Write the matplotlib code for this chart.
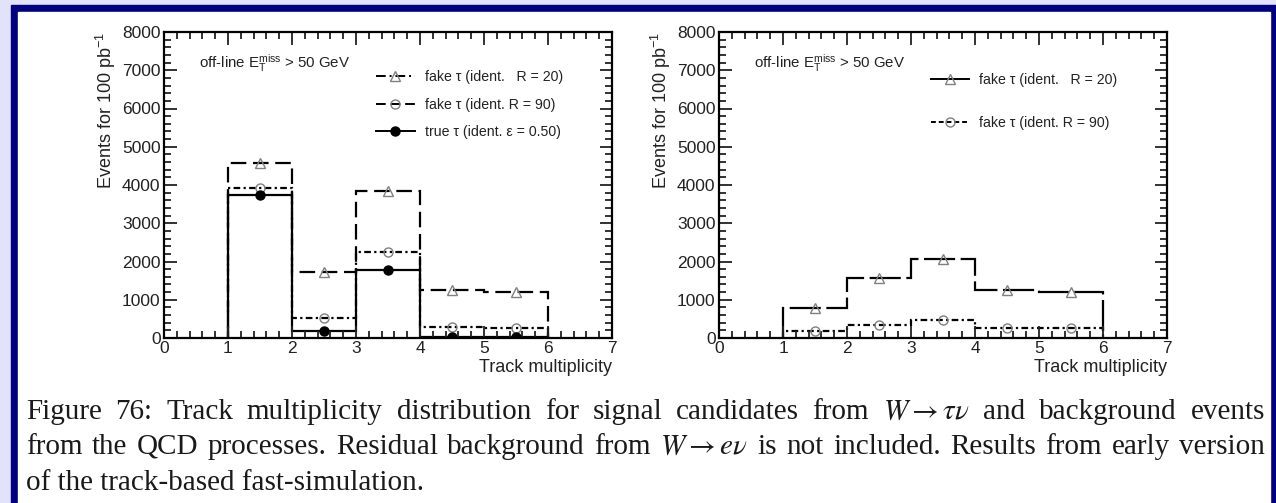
import matplotlib.pyplot as plt
from matplotlib.patches import Rectangle
from matplotlib.lines import Line2D
from matplotlib.ticker import MultipleLocator
import numpy as np

plt.rcParams['font.family'] = ['Liberation Sans', 'DejaVu Sans']
plt.rcParams['mathtext.fontset'] = 'custom'
plt.rcParams['mathtext.rm'] = 'Liberation Sans'
plt.rcParams['mathtext.it'] = 'Liberation Sans:italic'

# bin edges of the track multiplicity histograms
edges = [1, 2, 3, 4, 5, 6]

# left panel
left_fake20 = [4570, 1720, 3840, 1250, 1200]
left_fake90 = [3920, 510, 2250, 300, 270]
left_true = [3750, 180, 1780, 25, 20]

# right panel
right_fake20 = [790, 1560, 2070, 1250, 1200]
right_fake90 = [180, 350, 470, 270, 250]

label20 = u'fake \u03c4 (ident.   R = 20)'
label90 = u'fake \u03c4 (ident. R = 90)'
label_true = u'true \u03c4 (ident. \u03b5 = 0.50)'

caption = [
    ['Figure', '76:', 'Track', 'multiplicity', 'distribution', 'for', 'signal', 'candidates', 'from',
     r'$W \rightarrow \tau\nu$', 'and', 'background', 'events'],
    ['from', 'the', 'QCD', 'processes.', 'Residual', 'background', 'from', r'$W \rightarrow e\nu$',
     'is', 'not', 'included.', 'Results', 'from', 'early', 'version'],
    ['of the track-based fast-simulation.'],
]

W, H = 1276, 503
fig = plt.figure(figsize=(W / 100, H / 100), dpi=100)
fig.patch.set_facecolor('#e2e2f8')
fig.add_artist(Rectangle((11 / W, 0), 1 - 11 / W, 1 - 5 / H, transform=fig.transFigure,
                         color='#000080', zorder=-2))
fig.add_artist(Rectangle((18 / W, 0), (1270 - 18) / W, 1 - 12 / H, transform=fig.transFigure,
                         color='white', zorder=-1))

centers = (np.array(edges[:-1]) + np.array(edges[1:])) / 2

style20_left = (0, (7, 3))
style90 = (0, (3, 1.5, 1, 1.5))
style20_right = (0, (14, 2.5))

tri = dict(marker='^', mfc='none', mec='#808080', ms=7, mew=1)
circ = dict(marker='o', mfc='none', mec='#808080', ms=6.5, mew=1)
dot = dict(marker='o', mfc='black', mec='black', ms=6.5)
txt = '#222222'


def setup(ax):
    ax.set_xlim(0, 7)
    ax.set_ylim(0, 8000)
    ax.xaxis.set_major_locator(MultipleLocator(1))
    ax.xaxis.set_minor_locator(MultipleLocator(0.2))
    ax.yaxis.set_major_locator(MultipleLocator(1000))
    ax.yaxis.set_minor_locator(MultipleLocator(200))
    ax.tick_params(which='both', direction='in', top=True, right=True, width=1.3,
                   labelsize=12.5, pad=2.5, colors=txt)
    ax.tick_params(which='major', length=9)
    ax.tick_params(which='minor', length=5)
    for s in ax.spines.values():
        s.set_linewidth(1.6)
        s.set_zorder(5)
    ax.set_xlabel('Track multiplicity', loc='right', fontsize=13, labelpad=2, color=txt)
    ax.set_ylabel('Events for 100 pb$^{-1}$', loc='top', fontsize=13, labelpad=3, color=txt)
    ax.text(0.55, 7180, r'off-line E$_{\mathrm{T}}^{\mathrm{miss}}$ > 50 GeV', fontsize=10.8,
            va='center', color=txt)


# left panel
ax1 = fig.add_axes([164 / W, 1 - 338 / H, 448 / W, 306 / H])
setup(ax1)
ax1.stairs(left_fake20, edges, baseline=0, color='black', lw=1.6, ls=style20_left)
ax1.stairs(left_fake90, edges, baseline=0, color='black', lw=1.6, ls=style90)
ax1.stairs(left_true, edges, baseline=0, color='black', lw=1.6)
ax1.plot(centers, left_fake20, ls='none', **tri)
ax1.plot(centers, left_fake90, ls='none', **circ)
ax1.plot(centers, left_true, ls='none', **dot)
h1 = [Line2D([], [], color='black', lw=1.4, ls=(0, (5, 2, 1, 2)), **tri),
      Line2D([], [], color='black', lw=1.4, ls=(0, (5, 2.5)), **circ),
      Line2D([], [], color='black', lw=1.4, **dot)]
ax1.legend(h1, [label20, label90, label_true], loc='upper left', bbox_to_anchor=(0.474, 0.875),
           frameon=False, fontsize=10.2, handlelength=2.7, handletextpad=0.7,
           labelspacing=0.95, borderpad=0, borderaxespad=0, numpoints=1, labelcolor=txt)

# right panel
ax2 = fig.add_axes([719 / W, 1 - 338 / H, 448 / W, 306 / H])
setup(ax2)
ax2.stairs(right_fake20, edges, baseline=0, color='black', lw=1.6, ls=style20_right)
ax2.stairs(right_fake90, edges, baseline=0, color='black', lw=1.6, ls=style90)
ax2.plot(centers, right_fake20, ls='none', **tri)
ax2.plot(centers, right_fake90, ls='none', **circ)
h2 = [Line2D([], [], color='black', lw=1.4, **tri),
      Line2D([], [], color='black', lw=1.4, ls=(0, (2.5, 1.5)), **circ)]
ax2.legend(h2, [label20, label90], loc='upper left', bbox_to_anchor=(0.473, 0.866),
           frameon=False, fontsize=10.2, handlelength=2.7, handletextpad=0.7,
           labelspacing=2.05, borderpad=0, borderaxespad=0, numpoints=1, labelcolor=txt)

# caption, justified word by word between x0 and x1 (pixels)
x0, x1 = 26, 1265
baselines = [419, 454, 490]
renderer = fig.canvas.get_renderer()
for i, (words, yb) in enumerate(zip(caption, baselines)):
    objs = [fig.text(0, 1 - yb / H, w, fontsize=21, family='Liberation Serif',
                     math_fontfamily='stix', va='baseline', ha='left', color='#1a1a1a')
            for w in words]
    widths = [o.get_window_extent(renderer).width for o in objs]
    if len(objs) > 1 and i < len(caption) - 1:
        gap = (x1 - x0 - sum(widths)) / (len(objs) - 1)
    else:
        gap = 0
    x = x0
    for o, w in zip(objs, widths):
        o.set_x(x / W)
        x += w + gap

fig.savefig('out.png', dpi=100)
